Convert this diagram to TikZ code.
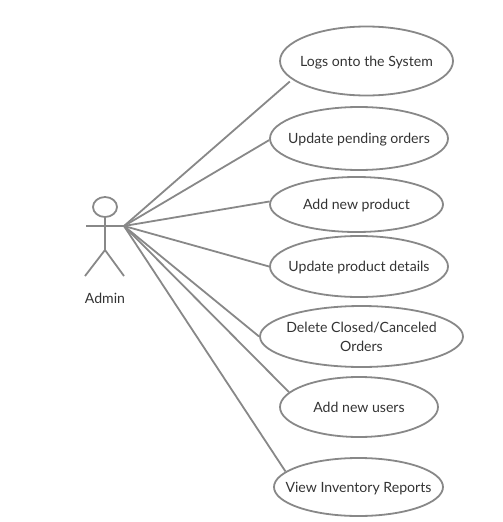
\documentclass[tikz,border=0pt]{standalone}
\usepackage{fontspec}
\setmainfont{Lato}
\usetikzlibrary{shapes.geometric,positioning}
\definecolor{umlgray}{HTML}{888888}
\definecolor{umltext}{HTML}{333333}
\tikzset{
	usecase/.style={draw=umlgray, line width=1.8pt, ellipse, inner xsep=-30pt, inner ysep=0pt, align=center, text=umltext, font=\fontsize{14.1pt}{19pt}\selectfont},
	oneline/.style={usecase, text height=10pt, text depth=0pt},
	actorline/.style={draw=umlgray, line width=1.8pt},
	assoc/.style={draw=umlgray, line width=1.8pt}
}
\begin{document}
\begin{tikzpicture}[x=1pt,y=-1pt]
	\useasboundingbox (0,0) rectangle (503,522);
	% Actor
	\node[actorline, ellipse, minimum width=24pt, minimum height=20pt, inner sep=0pt] (head) at (105,207) {};
	\coordinate (neck) at (105,226);
	\coordinate (handL) at (86,226);
	\coordinate (hand) at (124,226);
	\coordinate (hip) at (105,250);
	\coordinate (footL) at (85,276);
	\coordinate (footR) at (124,276);
	\draw[actorline] (head.south) -- (hip);
	\draw[actorline] (handL) -- (hand);
	\draw[actorline] (footL) -- (hip) -- (footR);
	\node[text=umltext, font=\fontsize{14.1pt}{16pt}\selectfont] (admin) at (105,298) {Admin};
	
	% Use cases
	\node[oneline, minimum width=173pt, minimum height=69pt] (logs) at (366.5,61) {Logs onto the System};
	\node[oneline, minimum width=178pt, minimum height=63pt] (pending) at (359,138.5) {Update pending orders};
	\node[oneline, minimum width=173pt, minimum height=55pt] (newprod) at (356.5,204.5) {Add new product};
	\node[oneline, minimum width=178pt, minimum height=61pt] (details) at (359,266.5) {Update product details};
	\node[usecase, minimum width=203pt, minimum height=61pt] (delete) at (361.5,336.5) {Delete Closed/Canceled\\Orders};
	\node[oneline, minimum width=158pt, minimum height=60pt] (users) at (359,407) {Add new users};
	\node[oneline, minimum width=169pt, minimum height=58pt] (reports) at (358.5,487) {View Inventory Reports};
	
	% Associations
	\draw[assoc, shorten >=3pt] (hand) -- (logs.194.5);
	\draw[assoc] (hand) -- (pending.181);
	\draw[assoc] (hand) -- (newprod.178);
	\draw[assoc] (hand) -- (details.west);
	\draw[assoc] (hand) -- (delete.west);
	\draw[assoc] (hand) -- (users.168);
	\draw[assoc] (hand) -- (reports.168);
\end{tikzpicture}
\end{document}
